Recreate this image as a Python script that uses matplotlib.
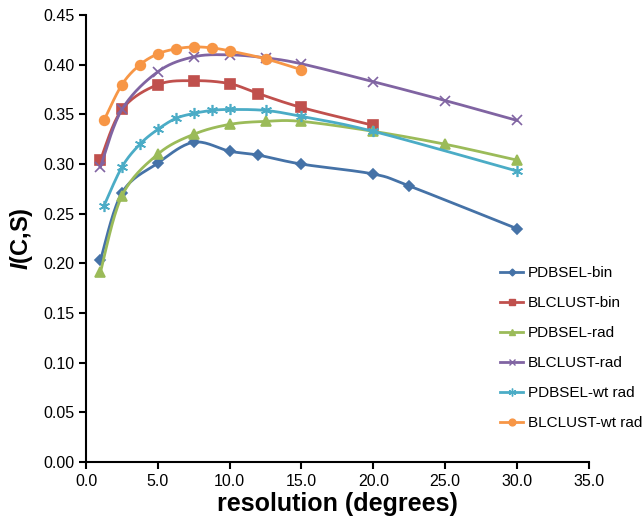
import numpy as np
from matplotlib import pyplot as plt

plt.rcParams['font.family'] = ['Liberation Sans', 'DejaVu Sans']
plt.rcParams['mathtext.fontset'] = 'custom'
plt.rcParams['mathtext.bfit'] = 'Liberation Sans:bold:italic'

# data
x_bin_sel = [1, 2.5, 5, 7.5, 10, 12, 15, 20, 22.5, 30]
pdbsel_bin = [0.203, 0.271, 0.301, 0.322, 0.313, 0.309, 0.300, 0.290, 0.278, 0.235]

x_bin_cl = [1, 2.5, 5, 7.5, 10, 12, 15, 20]
blclust_bin = [0.304, 0.355, 0.380, 0.384, 0.381, 0.371, 0.357, 0.339]

x_rad = [1, 2.5, 5, 7.5, 10, 12.5, 15, 20, 25, 30]
pdbsel_rad = [0.191, 0.268, 0.310, 0.330, 0.340, 0.343, 0.343, 0.333, 0.320, 0.304]
blclust_rad = [0.297, 0.355, 0.393, 0.408, 0.410, 0.407, 0.401, 0.383, 0.364, 0.344]

x_wt_sel = [1.25, 2.5, 3.75, 5, 6.25, 7.5, 8.75, 10, 12.5, 15, 20, 30]
pdbsel_wt = [0.258, 0.297, 0.320, 0.335, 0.346, 0.351, 0.354, 0.355, 0.354, 0.348, 0.333, 0.293]

x_wt_cl = [1.25, 2.5, 3.75, 5, 6.25, 7.5, 8.75, 10, 12.5, 15]
blclust_wt = [0.344, 0.380, 0.400, 0.411, 0.416, 0.418, 0.417, 0.414, 0.406, 0.395]


def smooth(xs, ys, n=20):
    # catmull-rom style curve through the points, like excel's smoothed line
    xs = np.asarray(xs, float)
    ys = np.asarray(ys, float)
    px = np.concatenate([[xs[0]], xs, [xs[-1]]])
    py = np.concatenate([[ys[0]], ys, [ys[-1]]])
    outx, outy = [], []
    for i in range(1, len(px) - 2):
        t = np.linspace(0, 1, n)
        p0x, p1x, p2x, p3x = px[i - 1], px[i], px[i + 1], px[i + 2]
        p0y, p1y, p2y, p3y = py[i - 1], py[i], py[i + 1], py[i + 2]
        c1x = p1x + (p2x - p0x) / 6
        c1y = p1y + (p2y - p0y) / 6
        c2x = p2x - (p3x - p1x) / 6
        c2y = p2y - (p3y - p1y) / 6
        bx = (1 - t)**3 * p1x + 3 * (1 - t)**2 * t * c1x + 3 * (1 - t) * t**2 * c2x + t**3 * p2x
        by = (1 - t)**3 * p1y + 3 * (1 - t)**2 * t * c1y + 3 * (1 - t) * t**2 * c2y + t**3 * p2y
        outx.extend(bx)
        outy.extend(by)
    return outx, outy


series = [
    ("PDBSEL-bin", x_bin_sel, pdbsel_bin, '#4572A7', 'D', 5),
    ("BLCLUST-bin", x_bin_cl, blclust_bin, '#C0504D', 's', 7),
    ("PDBSEL-rad", x_rad, pdbsel_rad, '#9BBB59', '^', 7),
    ("BLCLUST-rad", x_rad, blclust_rad, '#8064A2', 'x', 7),
    ("PDBSEL-wt rad", x_wt_sel, pdbsel_wt, '#4BACC6', (6, 2, 0), 8),
    ("BLCLUST-wt rad", x_wt_cl, blclust_wt, '#F79646', 'o', 7),
]

fig = plt.figure(figsize=(6.42, 5.22), dpi=100)
ax = fig.add_axes([0.134, 0.115, 0.783, 0.856])

for name, xs, ys, col, mk, ms in series:
    sx, sy = smooth(xs, ys)
    ax.plot(sx, sy, '-', color=col, lw=2)
    ax.plot(xs, ys, linestyle='none', marker=mk, color=col, ms=ms, mew=1.2)
    ax.plot([], [], '-', color=col, lw=2, marker=mk, ms=ms * 0.7, mew=1, label=name)

ax.set_xlim(0, 35)
ax.set_ylim(0, 0.45)
ax.set_xticks(np.arange(0, 35.1, 5))
ax.set_yticks(np.arange(0, 0.451, 0.05))
ax.set_xticklabels([f"{v:.1f}" for v in np.arange(0, 35.1, 5)])
ax.set_yticklabels([f"{v:.2f}" for v in np.arange(0, 0.451, 0.05)])
ax.tick_params(direction='out', length=5, width=1.5, labelsize=11.5, colors='black')
for s in ['top', 'right']:
    ax.spines[s].set_visible(False)
for s in ['left', 'bottom']:
    ax.spines[s].set_linewidth(1.5)

ax.set_xlabel("resolution (degrees)", fontsize=18, fontweight='bold', labelpad=2)
ax.set_ylabel(r"$\mathbfit{I}$(C,S)", fontsize=17, fontweight='bold', labelpad=6)

fig.legend(loc='upper left', bbox_to_anchor=(0.770, 0.502), borderaxespad=0, frameon=False,
           fontsize=11, handlelength=1.5, handletextpad=0.3, labelspacing=1.05)

plt.savefig("out.png")
